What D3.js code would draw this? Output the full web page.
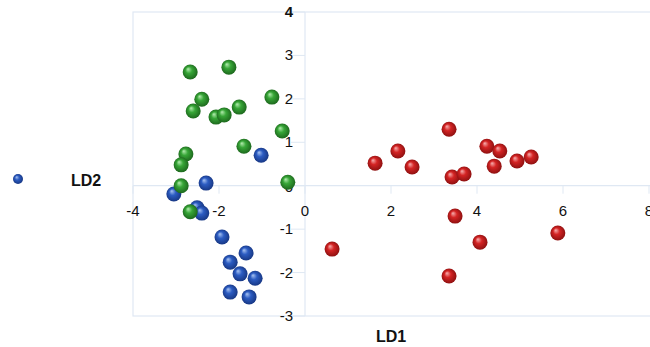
<!DOCTYPE html>
<html>
<head>
<meta charset="utf-8">
<script src="https://cdn.jsdelivr.net/npm/d3@7"></script>
<style>
  body { margin: 0; background: #fff; }
  svg { display: block; font-family: "Liberation Sans", Arial, sans-serif; }
</style>
</head>
<body>
<svg width="650" height="347"></svg>
<script>
// LD1 / LD2 scores for the three groups
const greenPts = [
  [-2.67, 2.62], [-1.77, 2.73], [-2.40, 1.99], [-2.60, 1.72], [-2.07, 1.58],
  [-1.88, 1.63], [-1.53, 1.81], [-0.77, 2.04], [-0.53, 1.26], [-1.42, 0.91],
  [-2.77, 0.73], [-2.88, 0.48], [-2.88, 0.00], [-2.67, -0.60], [-0.40, 0.08]
];
const bluePts = [
  [-1.02, 0.70], [-2.30, 0.06], [-3.05, -0.19], [-2.51, -0.51], [-2.40, -0.63],
  [-1.93, -1.18], [-1.37, -1.55], [-1.74, -1.76], [-1.51, -2.03], [-1.16, -2.13],
  [-1.74, -2.45], [-1.30, -2.56]
];
const redPts = [
  [3.35, 1.30], [2.16, 0.80], [1.63, 0.52], [2.49, 0.43], [4.23, 0.91],
  [4.53, 0.80], [4.40, 0.45], [4.93, 0.57], [5.26, 0.66], [3.42, 0.20],
  [3.70, 0.27], [3.49, -0.70], [4.07, -1.30], [5.88, -1.09], [0.63, -1.46],
  [3.35, -2.08]
];
const xTicks = [-4, -2, 0, 2, 4, 6, 8];
const yTicks = [-3, -2, -1, 0, 1, 2, 3, 4];

const svg = d3.select('svg');

const x = d3.scaleLinear().domain([-4, 8]).range([133, 649]);
const y = d3.scaleLinear().domain([-3, 4]).range([316, 12]);

const defs = svg.append('defs');
function sphere(id, light, mid, dark) {
  const g = defs.append('radialGradient')
    .attr('id', id).attr('cx', '50%').attr('cy', '50%').attr('r', '55%')
    .attr('fx', '35%').attr('fy', '30%');
  g.append('stop').attr('offset', '0%').attr('stop-color', light);
  g.append('stop').attr('offset', '40%').attr('stop-color', mid);
  g.append('stop').attr('offset', '100%').attr('stop-color', dark);
}
sphere('gGreen', '#b5ecb0', '#37a637', '#1a611a');
sphere('gBlue', '#a9c4f2', '#2c5cc2', '#15337d');
sphere('gRed', '#f7b0b0', '#d42424', '#860e0e');

const lineCol = '#dfe8f3';

// frame
svg.append('rect')
  .attr('x', 133).attr('y', 12)
  .attr('width', 530).attr('height', 304)
  .attr('fill', 'none').attr('stroke', lineCol).attr('stroke-width', 1.2);

// axis lines through origin
svg.append('line')
  .attr('x1', 133).attr('x2', 650).attr('y1', y(0)).attr('y2', y(0))
  .attr('stroke', lineCol).attr('stroke-width', 1.2);
svg.append('line')
  .attr('x1', x(0)).attr('x2', x(0)).attr('y1', 12).attr('y2', 316)
  .attr('stroke', lineCol).attr('stroke-width', 1.2);

// tick marks
svg.selectAll('.xtick').data(xTicks).enter().append('line')
  .attr('x1', d => x(d)).attr('x2', d => x(d))
  .attr('y1', y(0)).attr('y2', y(0) + 8)
  .attr('stroke', lineCol);
svg.selectAll('.ytick').data(yTicks).enter().append('line')
  .attr('x1', x(0) - 14).attr('x2', x(0))
  .attr('y1', d => y(d)).attr('y2', d => y(d))
  .attr('stroke', lineCol);

// tick labels
svg.selectAll('.xlab').data(xTicks).enter().append('text')
  .attr('x', d => x(d)).attr('y', y(0) + 30)
  .attr('text-anchor', 'middle').attr('font-size', 15).attr('fill', '#111')
  .text(d => d);
svg.selectAll('.ylab').data(yTicks.filter(d => d !== 0)).enter().append('text')
  .attr('x', x(0) - 12).attr('y', d => y(d) + 5)
  .attr('text-anchor', 'end').attr('font-size', 15).attr('fill', '#111')
  .attr('font-weight', d => d === 4 ? 'bold' : 'normal')
  .text(d => d);
svg.append('text')
  .attr('x', x(0) - 12).attr('y', y(0) + 6)
  .attr('text-anchor', 'end').attr('font-size', 15).attr('fill', '#111')
  .text(0);

// points
function drawPts(data, fill, r) {
  svg.append('g').selectAll('circle').data(data).enter().append('circle')
    .attr('cx', d => x(d[0])).attr('cy', d => y(d[1]))
    .attr('r', r).attr('fill', `url(#${fill})`);
}
drawPts(bluePts, 'gBlue', 7.5);
drawPts(greenPts, 'gGreen', 7.5);
drawPts(redPts, 'gRed', 7.5);

// legend
svg.append('circle').attr('cx', 18).attr('cy', 179).attr('r', 5).attr('fill', 'url(#gBlue)');
svg.append('text').attr('x', 71).attr('y', 186)
  .attr('font-size', 16).attr('font-weight', 'bold').attr('fill', '#111').text('LD2');

// x title
svg.append('text').attr('x', 376).attr('y', 342)
  .attr('font-size', 16).attr('font-weight', 'bold').attr('fill', '#111').text('LD1');
</script>
</body>
</html>
